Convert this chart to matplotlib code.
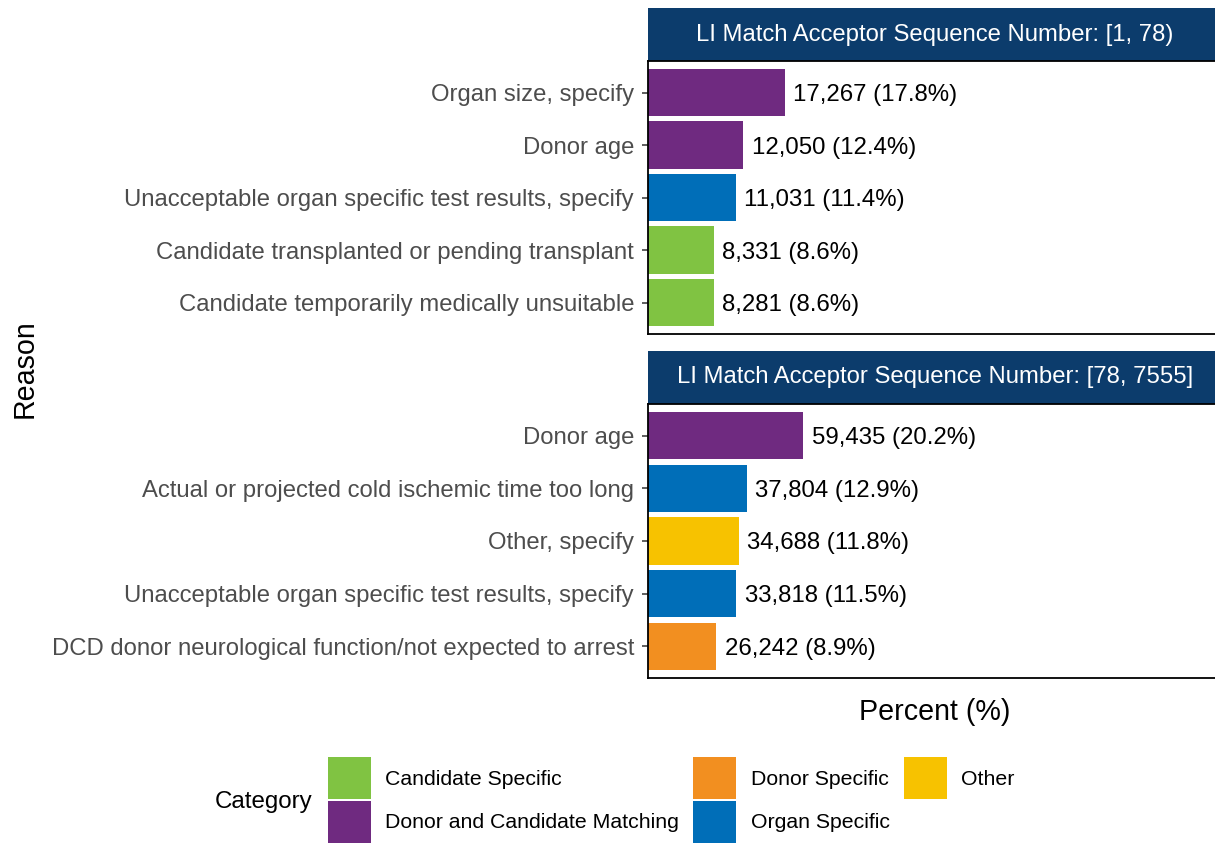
import matplotlib
matplotlib.use('Agg')
import matplotlib.pyplot as plt
from matplotlib.patches import Patch

plt.rcParams['font.family'] = ['Liberation Sans', 'DejaVu Sans']

## Data
strip_titles = ['LI Match Acceptor Sequence Number: [1, 78)',
                'LI Match Acceptor Sequence Number: [78, 7555]']

reasons_1 = ['Organ size, specify',
             'Donor age',
             'Unacceptable organ specific test results, specify',
             'Candidate transplanted or pending transplant',
             'Candidate temporarily medically unsuitable']
counts_1 = [17267, 12050, 11031, 8331, 8281]
pct_1 = [17.8, 12.4, 11.4, 8.6, 8.6]
cats_1 = ['Donor and Candidate Matching', 'Donor and Candidate Matching',
          'Organ Specific', 'Candidate Specific', 'Candidate Specific']

reasons_2 = ['Donor age',
             'Actual or projected cold ischemic time too long',
             'Other, specify',
             'Unacceptable organ specific test results, specify',
             'DCD donor neurological function/not expected to arrest']
counts_2 = [59435, 37804, 34688, 33818, 26242]
pct_2 = [20.2, 12.9, 11.8, 11.5, 8.9]
cats_2 = ['Donor and Candidate Matching', 'Organ Specific', 'Other',
          'Organ Specific', 'Donor Specific']

categories = ['Candidate Specific', 'Donor and Candidate Matching',
              'Donor Specific', 'Organ Specific', 'Other']
cat_colors = {'Candidate Specific': '#80C342',
              'Donor and Candidate Matching': '#6F2A80',
              'Donor Specific': '#F28F20',
              'Organ Specific': '#006EB8',
              'Other': '#F7C200'}
strip_color = '#0C3C6C'

## Layout (pixels)
W, H = 1215, 843
fig = plt.figure(figsize=(W / 100, H / 100), dpi=100)

def fig_box(x0, y0, x1, y1):
    return [x0 / W, 1 - y1 / H, (x1 - x0) / W, (y1 - y0) / H]

panel_left, panel_right = 648, 1222
panels = [(8, 61, 334), (351, 404, 678)]
data = [(reasons_1, counts_1, pct_1, cats_1), (reasons_2, counts_2, pct_2, cats_2)]

for (s_top, p_top, p_bot), title, (reasons, counts, pcts, cats) in zip(panels, strip_titles, data):
    # strip
    sax = fig.add_axes(fig_box(panel_left, s_top, panel_right, p_top))
    sax.set_facecolor(strip_color)
    sax.set_xticks([]); sax.set_yticks([])
    for sp in sax.spines.values():
        sp.set_visible(False)
    sax.text(0.5, 0.5, title, color='white', fontsize=17.2,
             ha='center', va='center', transform=sax.transAxes)

    ax = fig.add_axes(fig_box(panel_left, p_top, panel_right, p_bot))
    y = list(range(len(reasons)))
    ax.barh(y, pcts, height=0.9, color=[cat_colors[c] for c in cats])
    for yi, n, p in zip(y, counts, pcts):
        ax.annotate('{:,} ({:.1f}%)'.format(n, p), (p, yi), xytext=(6, 0),
                    textcoords='offset points', va='center_baseline', ha='left',
                    fontsize=17.3, color='black')
    ax.set_xlim(0, 74.7)
    ax.set_ylim(len(reasons) - 0.4, -0.6)
    ax.set_yticks(y)
    ax.set_yticklabels(reasons, fontsize=17.2, color='#4D4D4D')
    ax.set_xticks([])
    ax.tick_params(axis='y', length=4, width=1.1, color='#333333', pad=6)
    for sp in ax.spines.values():
        sp.set_linewidth(1.3)
        sp.set_color('black')

fig.text(935 / W, 1 - 712 / H, 'Percent (%)', fontsize=20.6, ha='center', va='center')
fig.text(25 / W, 1 - 369 / H, 'Reason', fontsize=20.6, ha='center', va='center', rotation=90)

## Legend
handles = [Patch(facecolor=cat_colors[c], edgecolor='none') for c in categories]
fig.text(264 / W, 1 - 802 / H, 'Category', fontsize=17.4, ha='center', va='center')
fig.legend(handles, categories, ncol=3, loc='center left',
           bbox_to_anchor=(328 / W, 1 - 800 / H), frameon=False,
           fontsize=15.3, handlelength=2.0, handleheight=2.65,
           handletextpad=0.7, columnspacing=0.67, labelspacing=0.08,
           borderpad=0.0, borderaxespad=0.0)

fig.savefig('out.png', dpi=100)
